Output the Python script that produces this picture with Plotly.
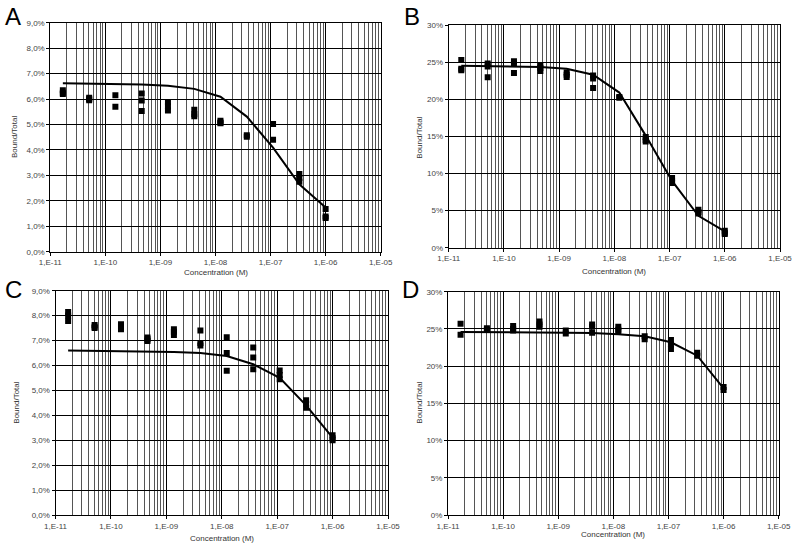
import plotly.graph_objects as go

# 3-fold dilution series of concentrations (M)
conc = [1.69e-11, 5.08e-11, 1.52e-10, 4.57e-10, 1.37e-9, 4.12e-9,
        1.23e-8, 3.70e-8, 1.11e-7, 3.33e-7, 1.0e-6]

# Replicate measurements (Bound/Total, %) per concentration
A_pts = [[6.35, 6.25, 6.2], [6.05, 5.95, 6.0], [6.15, 5.7], [6.22, 5.94, 5.53],
         [5.88, 5.72, 5.55], [5.58, 5.4, 5.32], [5.15, 5.08, 5.05], [4.58, 4.52],
         [5.02, 4.4], [3.05, 2.9, 2.75], [1.68, 1.38, 1.32]]
A_fit = [6.62, 6.61, 6.6, 6.57, 6.52, 6.4, 6.09, 5.31, 4.09, 2.65, 1.74]

B_pts = [[25.3, 24.1, 23.9], [24.8, 24.4, 22.95], [25.1, 24.8, 23.55], [24.6, 24.2, 23.8],
         [23.6, 23.3, 23.0], [23.2, 22.8, 21.5], [20.3, 20.2], [14.9, 14.5, 14.3],
         [9.4, 9.0, 8.7], [5.1, 4.8, 4.6], [2.3, 2.0, 1.85]]
B_fit = [24.5, 24.45, 24.4, 24.35, 24.1, 23.3, 20.9, 15.1, 9.0, 4.3, 2.2]

C_pts = [[8.15, 8.0, 7.78], [7.62, 7.55, 7.5], [7.65, 7.55, 7.45], [7.12, 7.05, 6.98],
         [7.45, 7.35, 7.22], [7.4, 6.9, 6.8], [7.13, 6.5, 5.79], [6.72, 6.32, 5.85],
         [5.8, 5.62, 5.45], [4.6, 4.45, 4.3], [3.2, 3.08, 3.0]]
C_fit = [6.6, 6.59, 6.58, 6.57, 6.54, 6.5, 6.38, 6.05, 5.5, 4.4, 3.1]

D_pts = [[25.7, 24.2], [25.1, 24.9], [25.4, 25.0, 24.8], [26.0, 25.6, 25.3],
         [24.8, 24.4], [25.6, 25.3, 24.5], [25.3, 24.9, 24.7], [24.0, 23.6],
         [23.5, 22.9, 22.3], [21.8, 21.4], [17.2, 16.8]]
D_fit = [24.6, 24.6, 24.6, 24.55, 24.5, 24.45, 24.3, 24.0, 23.2, 21.4, 17.0]

x_tickvals = [1e-11, 1e-10, 1e-9, 1e-8, 1e-7, 1e-6, 1e-5]
x_ticktext = ["1,E-11", "1,E-10", "1,E-09", "1,E-08", "1,E-07", "1,E-06", "1,E-05"]
yA_vals = [0, 1, 2, 3, 4, 5, 6, 7, 8, 9]
yA_text = ["0,0%", "1,0%", "2,0%", "3,0%", "4,0%", "5,0%", "6,0%", "7,0%", "8,0%", "9,0%"]
yB_vals = [0, 5, 10, 15, 20, 25, 30]
yB_text = ["0%", "5%", "10%", "15%", "20%", "25%", "30%"]

W, H = 794, 547
panels = [
    # letter, pts, fit, yvals, ytext, ymax, x px range, y px range (top, bottom)
    ("A", A_pts, A_fit, yA_vals, yA_text, 9, (50.3, 380.7), (22.7, 251.7)),
    ("B", B_pts, B_fit, yB_vals, yB_text, 30, (448.7, 780.0), (25.0, 247.7)),
    ("C", C_pts, C_fit, yA_vals, yA_text, 9, (55.5, 388.0), (290.7, 515.0)),
    ("D", D_pts, D_fit, yB_vals, yB_text, 30, (448.0, 778.7), (291.7, 515.0)),
]
letter_pos = {"A": (3, 16), "B": (402, 16), "C": (3, 289), "D": (400, 289)}
ytitle_pos = {"A": (15, 137), "B": (418.7, 138), "C": (15.7, 403), "D": (418.7, 403)}
xtitle_pos = {"A": 272, "B": 271, "C": 538, "D": 534}

fig = go.Figure()
annotations = []
tick_font = dict(family="Liberation Sans, Arial", size=8, color="#444")

for i, (letter, pts, fit, yv, yt, ymax, (x0, x1), (yt0, yb0)) in enumerate(panels):
    n = "" if i == 0 else str(i + 1)
    xs, ys = [], []
    for c, reps in zip(conc, pts):
        for v in reps:
            xs.append(c)
            ys.append(v)
    fig.add_trace(go.Scatter(x=xs, y=ys, mode="markers",
                             marker=dict(symbol="square", size=6, color="black"),
                             xaxis="x" + n, yaxis="y" + n, showlegend=False))
    fig.add_trace(go.Scatter(x=conc, y=fit, mode="lines",
                             line=dict(color="black", width=2),
                             xaxis="x" + n, yaxis="y" + n, showlegend=False))
    fig.layout["xaxis" + n] = dict(
        type="log", range=[-11, -5], domain=[x0 / W, x1 / W],
        anchor="y" + n, tickvals=x_tickvals, ticktext=x_ticktext,
        tickfont=tick_font, showgrid=True, gridcolor="black", gridwidth=1,
        minor=dict(showgrid=True, dtick="D1", gridcolor="#555", gridwidth=1),
        showline=True, linecolor="black", linewidth=1, mirror=True,
        ticks="outside", ticklen=3, tickcolor="black", zeroline=False,
        automargin=False,
    )
    fig.layout["yaxis" + n] = dict(
        range=[0, ymax], domain=[1 - yb0 / H, 1 - yt0 / H],
        anchor="x" + n, tickvals=yv, ticktext=yt, tickfont=tick_font,
        showgrid=True, gridcolor="black", gridwidth=1,
        showline=True, linecolor="black", linewidth=1, mirror=True,
        ticks="outside", ticklen=3, tickcolor="black", zeroline=False,
        automargin=False,
    )
    lx, ly = letter_pos[letter]
    annotations.append(dict(text=letter, x=lx / W, y=1 - ly / H, xref="paper", yref="paper",
                            xanchor="left", yanchor="middle", showarrow=False,
                            font=dict(family="Liberation Sans, Arial", size=24, color="black")))
    tx, ty = ytitle_pos[letter]
    annotations.append(dict(text="Bound/Total", x=tx / W, y=1 - ty / H, xref="paper", yref="paper",
                            xanchor="center", yanchor="middle", showarrow=False, textangle=-90,
                            font=dict(family="Liberation Sans, Arial", size=8, color="#333")))
    annotations.append(dict(text="Concentration (M)", x=(x0 + x1) / 2 / W,
                            y=1 - xtitle_pos[letter] / H, xref="paper", yref="paper",
                            xanchor="center", yanchor="middle", showarrow=False,
                            font=dict(family="Liberation Sans, Arial", size=8, color="#333")))

fig.update_layout(width=W, height=H, margin=dict(l=0, r=0, t=0, b=0, pad=0, autoexpand=False),
                  paper_bgcolor="white", plot_bgcolor="white",
                  annotations=annotations, showlegend=False)

fig.write_html("out.html", config={"displayModeBar": False},
               post_script="document.body.style.margin='0';document.body.style.padding='0';"
                           "document.documentElement.style.overflow='hidden';")
